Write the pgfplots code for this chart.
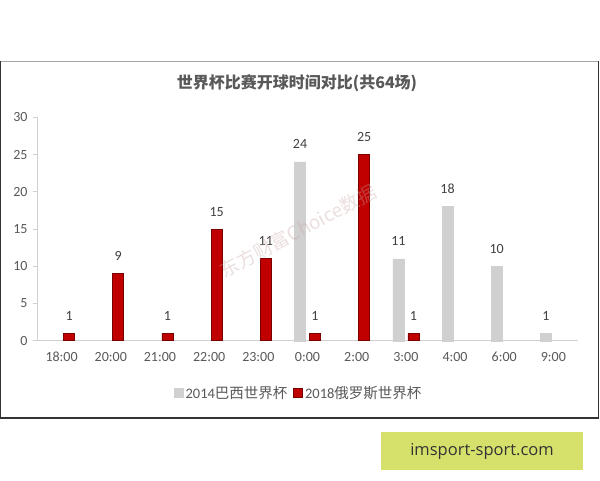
\documentclass[border=0pt]{standalone}
\usepackage{pgfplots}
\pgfplotsset{compat=1.18}
\usepackage{fontspec}
\setmainfont{Carlito}
\newfontfamily\cjk{Noto Sans CJK SC}
\newfontfamily\webfont{Open Sans}
\definecolor{redbar}{HTML}{C00000}
\definecolor{rededge}{HTML}{7A0000}
\definecolor{graybar}{HTML}{D0D0D0}
\definecolor{axisgray}{HTML}{D0D0D0}
\definecolor{txtgray}{HTML}{595959}
\definecolor{lblgray}{HTML}{404040}
\definecolor{boxgreen}{HTML}{D6E16C}
\definecolor{wmark}{RGB}{200,165,165}
\begin{document}
\begin{tikzpicture}
\useasboundingbox (0pt,0pt) rectangle (600pt,-480pt);
\fill[white] (0pt,0pt) rectangle (600pt,-480pt);
\draw[line width=0.8pt, color=black!35] (0.6pt,-61pt) -- (598.4pt,-61pt);
\draw[line width=1.2pt, color=black!80] (0.6pt,-61pt) -- (0.6pt,-418pt) -- (598.4pt,-418pt) -- (598.4pt,-61pt);
\node[font=\cjk\bfseries\fontsize{16}{18}\selectfont, text=txtgray] at (297pt,-83pt) {世界杯比赛开球时间对比(共64场)};
\begin{axis}[
  at={(37pt,-340.7pt)}, anchor=south west,
  scale only axis, width=541pt, height=223.4pt,
  xmin=-0.5, xmax=10.5, ymin=0, ymax=30,
  ytick={0,5,...,30},
  xtick={0,1,...,10},
  xticklabels={18:00,20:00,21:00,22:00,23:00,0:00,2:00,3:00,4:00,6:00,9:00},
  axis x line*=bottom, axis y line*=left,
  axis line style={draw=axisgray, line width=0.8pt, -},
  xtick style={draw=none},
  ytick style={draw=axisgray, line width=0.8pt},
  tick align=outside, major tick length=4pt,
  /pgf/number format/assume math mode=true,
  ticklabel style={font=\fontsize{14}{16}\selectfont, text=txtgray},
  xticklabel style={yshift=-4pt},
  yticklabel style={xshift=-2pt},
  ybar, bar width=11pt,
  nodes near coords,
  every node near coord/.append style={font=\fontsize{14}{16}\selectfont, text=lblgray, anchor=base, yshift=13pt},
  legend style={at={(0.484,-0.234)}, anchor=center, draw=none, fill=none,
    legend columns=2, font=\fontsize{14.5}{16}\selectfont, text=txtgray,
    /tikz/every even column/.append style={column sep=4pt},
    legend cell align=left},
  legend image code/.code={\fill[#1] (0pt,-4.5pt) rectangle (9pt,4.5pt);},
  clip=false,
]
\addplot[fill=graybar, draw=graybar, bar shift=-7.5pt] coordinates {(5,24) (7,11) (8,18) (9,10) (10,1)};
\addplot[fill=redbar, draw=rededge, line width=0.6pt, bar shift=7.5pt] coordinates {(0,1) (1,9) (2,1) (3,15) (4,11) (5,1) (6,25) (7,1)};
\legend{2014{\cjk 巴西世界杯}, 2018{\cjk 俄罗斯世界杯}}
\end{axis}
\node[rotate=28, font=\cjk\fontsize{19}{21}\selectfont, text=wmark, opacity=0.35] at (298pt,-231pt) {东方财富Choice数据};
\fill[boxgreen] (381pt,-432pt) rectangle (583pt,-470pt);
\node[font=\webfont\fontsize{16.5}{18}\selectfont, text=black!80] at (482pt,-451pt) {imsport-sport.com};
\end{tikzpicture}
\end{document}
